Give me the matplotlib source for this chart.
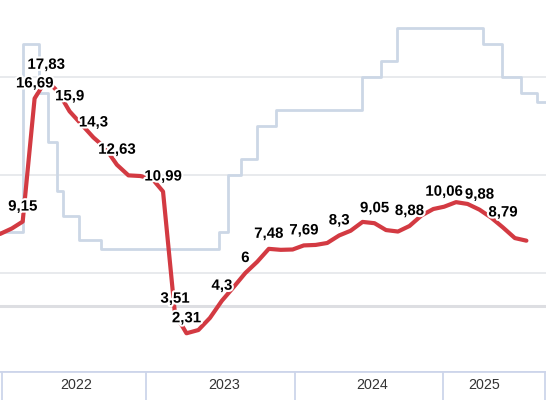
import numpy as np
import pandas as pd
import matplotlib
matplotlib.use("Agg")
import matplotlib.pyplot as plt
import matplotlib.patheffects as pe

# inflation, % y/y, value at month end
cpi_months = pd.date_range("2021-12-31", "2025-09-30", freq="ME")
cpi_values = [8.39, 8.73, 9.15, 16.69, 17.83, 17.10, 15.90, 15.10, 14.30, 13.68, 12.63, 11.98, 11.94,
              11.77, 10.99, 3.51, 2.31, 2.51, 3.25, 4.30, 5.15, 6.00, 6.69, 7.48, 7.42,
              7.44, 7.69, 7.72, 7.84, 8.30, 8.59, 9.13, 9.05, 8.63, 8.54, 8.88, 9.52,
              9.92, 10.06, 10.34, 10.23, 9.88, 9.40, 8.79, 8.14, 7.98]
labelled = ["2022-02", "2022-03", "2022-04", "2022-06", "2022-08", "2022-10", "2023-02", "2023-03",
            "2023-04", "2023-07", "2023-09", "2023-11", "2024-02", "2024-05", "2024-08", "2024-11",
            "2025-02", "2025-05", "2025-07"]

# key rate, changes
rate_dates = pd.to_datetime(["2021-12-01", "2022-02-28", "2022-04-11", "2022-05-04", "2022-05-27", "2022-06-14",
                             "2022-07-25", "2022-09-19", "2023-07-24", "2023-08-15", "2023-09-18", "2023-10-30",
                             "2023-12-18", "2024-07-29", "2024-09-16", "2024-10-28", "2025-06-09", "2025-07-28",
                             "2025-09-15", "2025-10-27", "2025-12-31"])
rate_values = [8.5, 20, 17, 14, 11, 9.5, 8, 7.5, 8.5, 12, 13, 15, 16, 18, 19, 21, 20, 18, 17, 16.5, 16.5]

year_names = ["2022", "2023", "2024", "2025"]
year_label_dates = pd.to_datetime(["2022-07-16", "2023-08-06", "2024-08-26", "2025-06-11"])
year_edges = pd.to_datetime(["2022-01-04", "2023-01-14", "2024-02-06", "2025-02-26", "2025-11-17"])

x_left, x_right = pd.Timestamp("2021-12-31"), pd.Timestamp("2025-11-20")

red = "#d33a42"
rate_col = "#ccd7e6"
edge_col = "#cdd5ea"

fig = plt.figure(figsize=(5.46, 4.0), dpi=100)
ax = fig.add_axes([0, 29 / 400, 1, 371 / 400])
band = fig.add_axes([0, 0, 1, 29 / 400])

for v in [6, 12, 18]:
    ax.axhline(v, color="#e2e4e8", lw=1.1, zorder=1)
ax.axhline(4, color="#dddee2", lw=2.2, zorder=1)

ax.step(rate_dates, rate_values, where="post", color=rate_col, lw=2.0, zorder=2)
ax.plot(cpi_months, cpi_values, color=red, lw=3.0, solid_joinstyle="round", solid_capstyle="round", zorder=3)

month_keys = [d.strftime("%Y-%m") for d in cpi_months]
for m in labelled:
    i = month_keys.index(m)
    val = cpi_values[i]
    txt = f"{val:g}".replace(".", ",")
    ax.annotate(txt, (cpi_months[i], val), xytext=(0, 10.8), textcoords="offset points",
                ha="center", va="center", fontsize=10.8, fontweight="bold", family="Liberation Sans",
                color="black", zorder=5,
                path_effects=[pe.withStroke(linewidth=3, foreground="white")])

ax.set_xlim(x_left, x_right)
ax.set_ylim(0, 371 / 16.33)
ax.axis("off")

band.set_xlim(x_left, x_right)
band.set_ylim(0, 1)
band.axis("off")
band.axhline(1, color=edge_col, lw=2.0)
for d in year_edges:
    band.axvline(d, color=edge_col, lw=1.3)
for d, name in zip(year_label_dates, year_names):
    band.text(d, 0.52, name, ha="center", va="center", fontsize=10.3, family="Liberation Sans", color="#333333")

fig.savefig("out.png", dpi=100)
